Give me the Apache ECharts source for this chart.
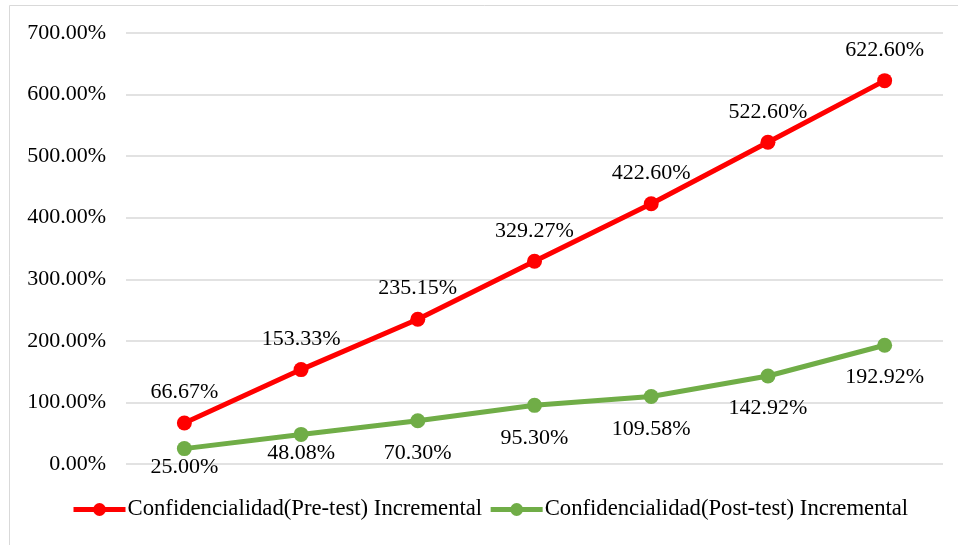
<!DOCTYPE html>
<html>
<head>
<meta charset="utf-8">
<script src="https://cdn.jsdelivr.net/npm/echarts@6/dist/echarts.min.js"></script>
<style>
html, body { margin: 0; padding: 0; background: #fff; }
#chart { width: 958px; height: 545px; }
</style>
</head>
<body>
<div id="chart"></div>
<script>
// datos del gráfico
var categorias = ['1', '2', '3', '4', '5', '6', '7'];
var preTest = [66.67, 153.33, 235.15, 329.27, 422.60, 522.60, 622.60];
var postTest = [25.00, 48.08, 70.30, 95.30, 109.58, 142.92, 192.92];
var nombres = ['Confidencialidad(Pre-test) Incremental', 'Confidencialidad(Post-test) Incremental'];

var fuente = '"Liberation Serif", "Times New Roman", serif';

var myChart = echarts.init(document.getElementById('chart'));

// las dos primeras etiquetas verdes quedan más cerca de la línea
var datosPost = postTest.map(function (v, i) {
    if (i < 2) {
        return { value: v, label: { distance: 0 } };
    }
    return v;
});

var option = {
    animation: false,
    backgroundColor: '#fff',
    graphic: [{
        type: 'rect',
        shape: { x: 9.5, y: 5.5, width: 1000, height: 600 },
        style: { fill: 'none', stroke: '#d9d9d9', lineWidth: 1 },
        silent: true
    }],
    grid: { left: 126, right: 15, top: 33, bottom: 81 },
    legend: {
        bottom: 19,
        left: 66,
        itemWidth: 52,
        itemHeight: 16,
        itemGap: 6,
        lineStyle: { width: 5 },
        textStyle: { fontFamily: fuente, fontSize: 22.7, color: '#000', padding: [0, 0, 0, -3] },
        data: nombres
    },
    xAxis: {
        type: 'category',
        data: categorias,
        boundaryGap: true,
        axisLine: { show: false },
        axisTick: { show: false },
        axisLabel: { show: false }
    },
    yAxis: {
        type: 'value',
        min: 0,
        max: 700,
        interval: 100,
        axisLine: { show: false },
        axisTick: { show: false },
        splitLine: { lineStyle: { color: '#d9d9d9', width: 1.5 } },
        axisLabel: {
            margin: 20,
            fontFamily: fuente,
            fontSize: 22,
            color: '#000',
            formatter: function (v) { return v.toFixed(2) + '%'; }
        }
    },
    series: [
        {
            name: nombres[0],
            type: 'line',
            data: preTest,
            symbol: 'circle',
            symbolSize: 15,
            itemStyle: { color: '#ff0000' },
            lineStyle: { color: '#ff0000', width: 5 },
            label: {
                show: true,
                position: 'top',
                distance: 12,
                fontFamily: fuente,
                fontSize: 22,
                color: '#000',
                formatter: function (p) { return p.value.toFixed(2) + '%'; }
            }
        },
        {
            name: nombres[1],
            type: 'line',
            data: datosPost,
            symbol: 'circle',
            symbolSize: 15,
            itemStyle: { color: '#70ad47' },
            lineStyle: { color: '#70ad47', width: 5 },
            label: {
                show: true,
                position: 'bottom',
                distance: 14,
                fontFamily: fuente,
                fontSize: 22,
                color: '#000',
                formatter: function (p) {
                    var v = typeof p.value === 'number' ? p.value : p.data.value;
                    return v.toFixed(2) + '%';
                }
            }
        }
    ]
};

myChart.setOption(option);
</script>
</body>
</html>
